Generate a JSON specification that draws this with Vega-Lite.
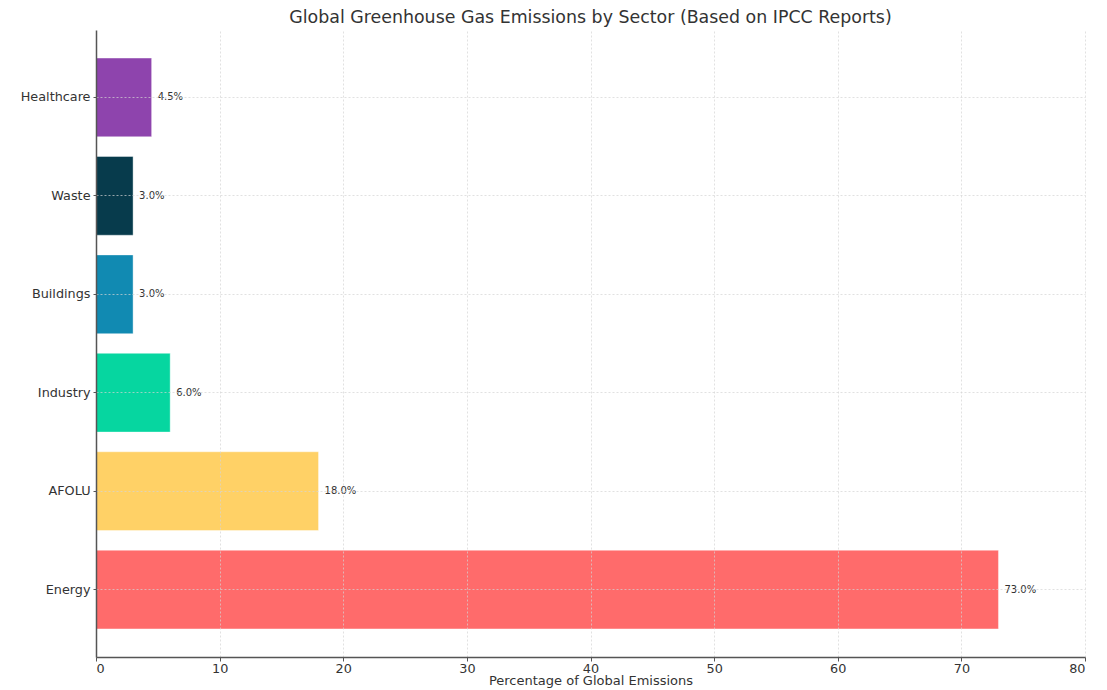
{
  "$schema": "https://vega.github.io/schema/vega-lite/v6.json",
  "width": 989,
  "height": 627,
  "autosize": "none",
  "padding": {"left": 96, "top": 30, "right": 22, "bottom": 33},
  "background": "white",
  "title": {
    "text": "Global Greenhouse Gas Emissions by Sector (Based on IPCC Reports)",
    "font": "DejaVu Sans",
    "fontSize": 17.4,
    "fontWeight": "normal",
    "color": "#333333",
    "anchor": "middle",
    "offset": 4
  },
  "data": {
    "values": [
      {"sector": "Energy", "share": 73.0, "label": "73.0%"},
      {"sector": "AFOLU", "share": 18.0, "label": "18.0%"},
      {"sector": "Industry", "share": 6.0, "label": "6.0%"},
      {"sector": "Buildings", "share": 3.0, "label": "3.0%"},
      {"sector": "Waste", "share": 3.0, "label": "3.0%"},
      {"sector": "Healthcare", "share": 4.5, "label": "4.5%"}
    ]
  },
  "config": {
    "view": {"stroke": null},
    "axis": {
      "labelFont": "DejaVu Sans",
      "titleFont": "DejaVu Sans",
      "labelColor": "#333333",
      "titleColor": "#333333",
      "domainColor": "#555555",
      "domainWidth": 1.5,
      "tickColor": "#555555",
      "gridColor": "#d4d4d4",
      "gridDash": [2, 2],
      "gridWidth": 0.7
    }
  },
  "encoding": {
    "y": {
      "field": "sector",
      "type": "nominal",
      "sort": ["Healthcare", "Waste", "Buildings", "Industry", "AFOLU", "Energy"],
      "scale": {"paddingInner": 0.2, "paddingOuter": 0.285},
      "axis": {
        "title": null,
        "labelFontSize": 12.8,
        "labelPadding": 3,
        "tickSize": 3,
        "bandPosition": 0.5,
        "grid": true,
        "zindex": 1
      }
    }
  },
  "layer": [
    {
      "mark": {"type": "bar", "stroke": "white", "strokeOpacity": 0.5, "strokeWidth": 0.8},
      "encoding": {
        "x": {
          "field": "share",
          "type": "quantitative",
          "scale": {"domain": [0, 80], "nice": false, "zero": true},
          "axis": {
            "title": "Percentage of Global Emissions",
            "titleFontSize": 13,
            "titleFontWeight": "normal",
            "titlePadding": 0,
            "labelFontSize": 12.8,
            "labelPadding": 1,
            "tickSize": 4,
            "values": [0, 10, 20, 30, 40, 50, 60, 70, 80],
            "grid": true,
            "zindex": 1
          }
        },
        "color": {
          "field": "sector",
          "type": "nominal",
          "legend": null,
          "scale": {
            "domain": ["Energy", "AFOLU", "Industry", "Buildings", "Waste", "Healthcare"],
            "range": ["#ff6b6b", "#ffd166", "#06d6a0", "#118ab2", "#073b4c", "#8e44ad"]
          }
        }
      }
    },
    {
      "mark": {
        "type": "text",
        "align": "left",
        "baseline": "middle",
        "dx": 6,
        "font": "DejaVu Sans",
        "fontSize": 10,
        "color": "#333333"
      },
      "encoding": {
        "x": {"field": "share", "type": "quantitative"},
        "text": {"field": "label"}
      }
    }
  ]
}
